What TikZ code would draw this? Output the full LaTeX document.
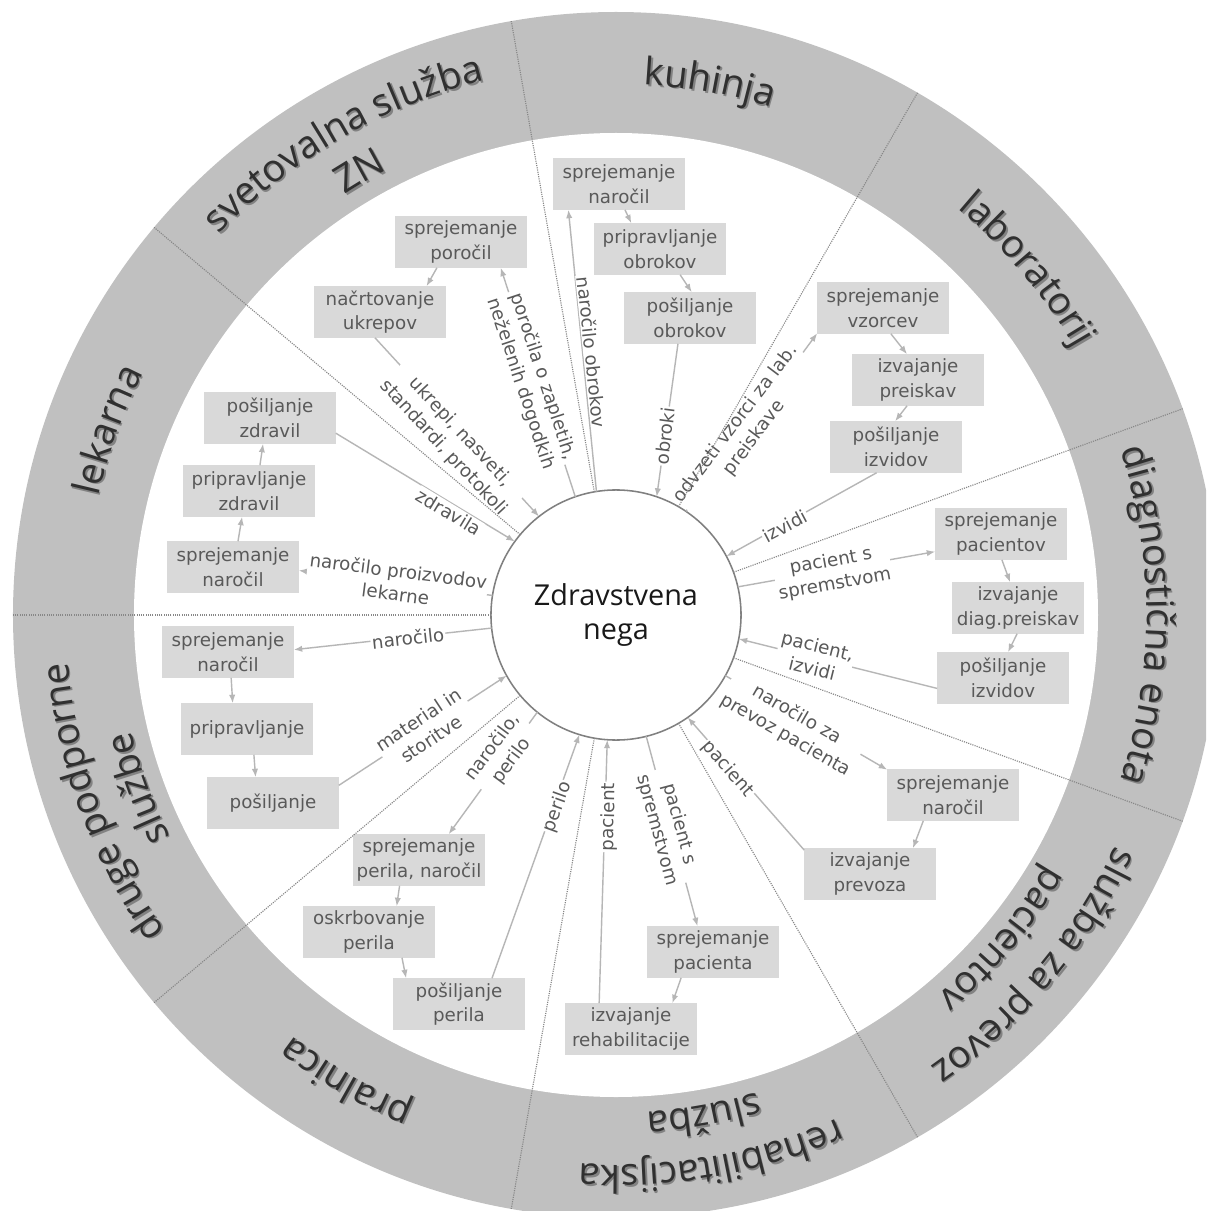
\documentclass[tikz,border=0pt]{standalone}
\usepackage{fontspec}
\setmainfont{DejaVu Sans}
\newfontfamily\ringfont{Open Sans}
\usetikzlibrary{arrows.meta,decorations.text}

\definecolor{ringgray}{RGB}{192,192,192}
\definecolor{boxgray}{RGB}{217,217,217}
\definecolor{boxtext}{RGB}{89,89,89}
\definecolor{arrowgray}{RGB}{182,182,182}
\definecolor{divgray}{RGB}{135,135,135}
\definecolor{ringtext}{RGB}{48,48,48}
\definecolor{ringshadow}{RGB}{130,130,130}
\definecolor{hubline}{RGB}{128,128,128}

\newcommand\ringfmt{\ringfont\fontsize{27}{30}\selectfont\color{ringtext}}
\newcommand\ringshd{\ringfont\fontsize{27}{30}\selectfont\color{ringshadow}}

% curved sector title: centre angle, baseline radius, text (with a soft shadow copy)
\newcommand\ringlabel[3]{%
  \path[decorate, decoration={text along path, text align=center, text={|\ringshd|#3}}]
    ([shift={(1.6,-1.6)}]#1+40:#2) arc[start angle=#1+40, end angle=#1-40, radius=#2];
  \path[decorate, decoration={text along path, text align=center, text={|\ringfmt|#3}}]
    (#1+40:#2) arc[start angle=#1+40, end angle=#1-40, radius=#2];
}

\tikzset{
  box/.style={fill=boxgray, text=boxtext, minimum width=3.275cm, minimum height=1.275cm,
    inner sep=0pt, align=center, font=\fontsize{13}{17.5}\selectfont},
  flow/.style={draw=arrowgray, line width=1pt, -{Latex[length=6pt,width=4.5pt]}},
  lbl/.style={fill=white, text=boxtext, inner sep=1pt, align=center,
    font=\fontsize{13}{16.5}\selectfont},
  divider/.style={draw=divgray, line width=0.8pt, dash pattern=on 0.8pt off 0.8pt},
}

\begin{document}
\begin{tikzpicture}[x=0.025cm,y=0.025cm]
\useasboundingbox (-616,-596) rectangle (590,615);
\clip (-616,-596) rectangle (590,615);

% ring and inner disk
\fill[ringgray] (0,0) circle[radius=603];
\fill[white] (0,0) circle[radius=482];

% hub
\node[circle, draw=hubline, line width=1.1pt, fill=white, minimum size=6.25cm, outer sep=0pt,
      inner sep=0pt, align=center, text=black!90, font=\ringfont\fontsize{20.5}{24}\selectfont]
      (zn) at (0,0) {Zdravstvena\\nega};

% kuhinja
\node[box] (k1) at (3,431) {sprejemanje\\naročil};
\node[box] (k2) at (44,366) {pripravljanje\\obrokov};
\node[box] (k3) at (74,297) {pošiljanje\\obrokov};
% svetovalna služba ZN
\node[box] (s1) at (-155,373) {sprejemanje\\poročil};
\node[box] (s2) at (-236,303) {načrtovanje\\ukrepov};
% lekarna
\node[box] (l1) at (-346,197) {pošiljanje\\zdravil};
\node[box] (l2) at (-367,124) {pripravljanje\\zdravil};
\node[box] (l3) at (-383,48) {sprejemanje\\naročil};
% druge podporne službe
\node[box] (d1) at (-388,-37) {sprejemanje\\naročil};
\node[box] (d2) at (-369,-114) {pripravljanje};
\node[box] (d3) at (-343,-188) {pošiljanje};
% pralnica
\node[box] (p1) at (-197,-245) {sprejemanje\\perila, naročil};
\node[box] (p2) at (-247,-317) {oskrbovanje\\perila};
\node[box] (p3) at (-157,-389) {pošiljanje\\perila};
% rehabilitacijska služba
\node[box] (r1) at (97,-337) {sprejemanje\\pacienta};
\node[box] (r2) at (15,-414) {izvajanje\\rehabilitacije};
% služba za prevoz pacientov
\node[box] (t1) at (337,-180) {sprejemanje\\naročil};
\node[box] (t2) at (254,-259) {izvajanje\\prevoza};
% diagnostična enota
\node[box] (g1) at (385,81) {sprejemanje\\pacientov};
\node[box] (g2) at (402,7) {izvajanje\\diag.preiskav};
\node[box] (g3) at (387,-63) {pošiljanje\\izvidov};
% laboratorij
\node[box] (b1) at (267,307) {sprejemanje\\vzorcev};
\node[box] (b2) at (302,235) {izvajanje\\preiskav};
\node[box] (b3) at (280,168) {pošiljanje\\izvidov};

% flows
\draw[flow] (zn.99) -- (k1.207);
\draw[flow] (k1.283) -- (k2.138);
\draw[flow] (k2.308) -- (k3.86);
\draw[flow] (k3.245) -- (zn.71);

\draw[flow] (zn.109) -- (s1.327);
\draw[flow] (s1.227) -- (s2.29);
\draw[flow] (s2.259) -- (zn.128);

\draw[flow] (zn.171) -- (l3.357);
\draw[flow] (l3.79) -- (l2.255);
\draw[flow] (l2.67) -- (l1.255);
\draw[flow] (l1.347) -- (zn.144);

\draw[flow] (zn.186) -- (d1.2);
\draw[flow] (d1.277) -- (d2.119);
\draw[flow] (d2.285) -- (d3.124);
\draw[flow] (d3.15) -- (zn.209);

\draw[flow] (zn.231) -- (p1.41);
\draw[flow] (p1.233) -- (p2.43);
\draw[flow] (p2.322) -- (p3.154);
\draw[flow] (p3.38) -- (zn.253);

\draw[flow] (r2.141) -- (zn.266);
\draw[flow] (zn.284) -- (r1.121);
\draw[flow] (r1.219) -- (r2.32);

\draw[flow] (zn.331) -- (t1.159);
\draw[flow] (t1.221) -- (t2.31);
\draw[flow] (t2.160) -- (zn.305);

\draw[flow] (zn.13) -- (g1.195);
\draw[flow] (g1.272) -- (g2.107);
\draw[flow] (g2.268) -- (g3.79);
\draw[flow] (g3.189) -- (zn.349);

\draw[flow] (zn.56) -- (b1.201);
\draw[flow] (b1.287) -- (b2.113);
\draw[flow] (b2.247) -- (b3.92);
\draw[flow] (b3.233) -- (zn.28);

% flow labels
\node[lbl, rotate=-84] (f1) at (-24,263) {naročilo obrokov};
\node[lbl, rotate=82.5] (f2) at (49,179) {obroki};
\node[lbl, rotate=-71.7] (f3) at (-84,235) {poročila o zapletih,\\neželenih dogodkih};
\node[lbl, rotate=-47.2] (f4) at (-164,175) {ukrepi, nasveti,\\standardi, protokoli};
\node[lbl, rotate=-31.3] (f5) at (-167,103) {zdravila};
\node[lbl, rotate=-7.4] (f6) at (-219,33) {naročilo proizvodov\\lekarne};
\node[lbl, rotate=6.2] (f7) at (-208,-23) {naročilo};
\node[lbl, rotate=33.4] (f8) at (-191,-114) {material in\\storitve};
\node[lbl, rotate=53.4] (f9) at (-114,-139) {naročilo,\\perilo};
\node[lbl, rotate=70.2] (f10) at (-58,-192) {perilo};
\node[lbl, rotate=88.5] (f11) at (-7,-202) {pacient};
\node[lbl, rotate=-74.9] (f12) at (52,-212) {pacient s\\spremstvom};
\node[lbl, rotate=-29.9] (f13) at (175,-110) {naročilo za\\prevoz pacienta};
\node[lbl, rotate=-48.8] (f14) at (112,-154) {pacient};
\node[lbl, rotate=10.3] (f15) at (217,42) {pacient s\\spremstvom};
\node[lbl, rotate=-13.9] (f16) at (199,-42) {pacient,\\izvidi};
\node[lbl, rotate=27.9] (f17) at (169,89) {izvidi};
\node[lbl, rotate=52.9] (f18) at (129,184) {odvzeti vzorci za lab.\\preiskave};

% sector dividers
\foreach \a in {180,140,100,60,20,340,300,260,220} {
  \coordinate (rim\a) at (\a:603);
  \draw[divider] (zn.\a) -- (rim\a);
}

% sector titles
\ringlabel{160}{531}{lekarna}
\ringlabel{120}{550}{svetovalna služba}
\ringlabel{120}{500}{ZN}
\ringlabel{80}{531}{kuhinja}
\ringlabel{40}{531}{laboratorij}
\ringlabel{0}{531}{diagnostična enota}
\ringlabel{-40}{550}{služba za prevoz}
\ringlabel{-40}{498}{pacientov}
\ringlabel{-80}{550}{rehabilitacijska}
\ringlabel{-80}{498}{služba}
\ringlabel{-120}{531}{pralnica}
\ringlabel{-160}{550}{druge podporne}
\ringlabel{-160}{498}{službe}
\end{tikzpicture}
\end{document}
